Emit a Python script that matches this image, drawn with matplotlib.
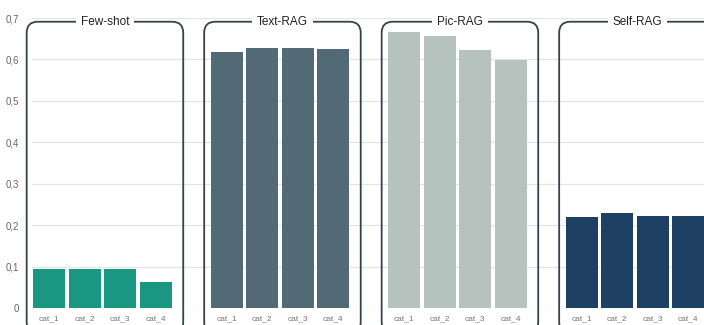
import matplotlib
matplotlib.use("Agg")
import matplotlib.pyplot as plt
from matplotlib.patches import FancyBboxPatch

methods = ["Few-shot", "Text-RAG", "Pic-RAG", "Self-RAG"]
categories = ["cat_1", "cat_2", "cat_3", "cat_4"]
few_shot = [0.094, 0.094, 0.094, 0.063]
text_rag = [0.618, 0.628, 0.628, 0.626]
pic_rag = [0.667, 0.657, 0.623, 0.599]
self_rag = [0.220, 0.229, 0.222, 0.222]
series = [few_shot, text_rag, pic_rag, self_rag]
colors = ["#1a9780", "#526a76", "#b5c2be", "#1e4062"]
y_ticks = [0, 0.1, 0.2, 0.3, 0.4, 0.5, 0.6, 0.7]
y_tick_labels = ["0", "0,1", "0,2", "0,3", "0,4", "0,5", "0,6", "0,7"]

plt.rcParams['font.family'] = ['Liberation Sans', 'DejaVu Sans']

W, H = 704, 325
fig = plt.figure(figsize=(W / 100, H / 100), dpi=100)
ax = fig.add_axes([32 / W, (H - 308) / H, (W - 32) / W, (308 - 18) / H])

group_step = len(categories) + 1
bar_w = 0.9
xticks, xlabels = [], []
for g, (vals, col) in enumerate(zip(series, colors)):
    xs = [g * group_step + i for i in range(len(vals))]
    ax.bar(xs, vals, width=bar_w, color=col, zorder=2)
    xticks += xs
    xlabels += categories

ax.set_xlim(-0.48, 18.45)
ax.set_ylim(0, 0.7)

# rounded group boxes
px_x = (W - 32) / (18.45 + 0.48)
px_y = (308 - 18) / 0.7
radius_px = 11
rx = radius_px / px_x
ry = radius_px / px_y
box_top = 0.691
box_bottom = -0.06
for g, name in enumerate(methods):
    left = g * group_step - bar_w / 2 - 0.18
    right = g * group_step + 3 + bar_w / 2 + 0.33
    patch = FancyBboxPatch((left, box_bottom), right - left, box_top - box_bottom,
                           boxstyle=f"round,pad=0,rounding_size={rx}",
                           mutation_aspect=ry / rx,
                           fill=False, edgecolor="#33444f", linewidth=1.3,
                           clip_on=False, zorder=3)
    ax.add_patch(patch)
    ax.text((left + right) / 2, box_top, name, ha="center", va="center",
            fontsize=8.5, color="#222222", zorder=4, clip_on=False,
            bbox=dict(facecolor="white", edgecolor="none", pad=3.5))

ax.set_yticks(y_ticks)
ax.set_yticklabels(y_tick_labels)
ax.set_xticks(xticks)
ax.set_xticklabels(xlabels)
ax.tick_params(axis="y", length=0, pad=9, labelsize=7, labelcolor="#666666")
ax.tick_params(axis="x", length=0, pad=5, labelsize=6, labelcolor="#777777")
ax.grid(axis="y", color="#e4e4e4", linewidth=0.9, zorder=0)
ax.set_axisbelow(True)
for s in ax.spines.values():
    s.set_visible(False)

fig.savefig("out.png", dpi=100)
